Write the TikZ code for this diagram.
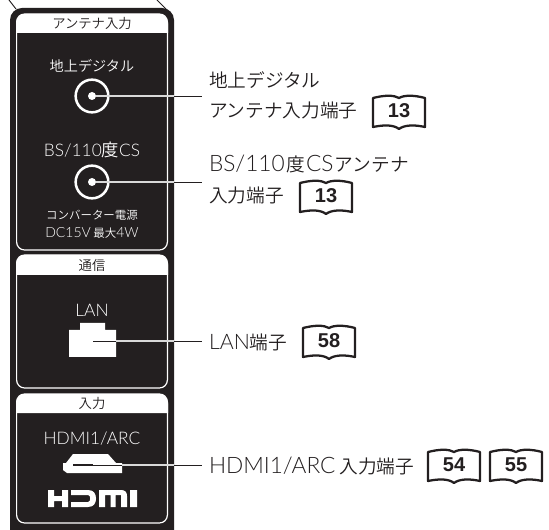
\documentclass[tikz,border=0pt]{standalone}
\usepackage{fontspec}
\setmainfont{Noto Sans CJK JP DemiLight}
\newfontfamily\latf{Lato Light}
\newfontfamily\latb{Liberation Sans Bold}
\newcommand{\lt}[1]{{\latf #1}}
\newcommand{\bookicon}[4]{% name, x, y(top), number
  \draw[bookline] (#2,#3+2) .. controls (#2+12,#3-1) and (#2+21,#3-1) .. (#2+26,#3+2)
     .. controls (#2+31,#3-1) and (#2+41,#3-1) .. (#2+52,#3+2) -- (#2+52,#3+31)
     .. controls (#2+41,#3+28.5) and (#2+31,#3+29) .. (#2+26,#3+33)
     .. controls (#2+21,#3+29) and (#2+12,#3+28.5) .. (#2,#3+31) -- cycle;
  \node[booknum] (#1) at (#2+26,#3+15) {\latb #4};
}
\definecolor{body}{HTML}{231F20}
\tikzset{
  x=0.75pt,y=-0.75pt,
  paneltext/.style={text=body,font=\fontsize{10}{12}\selectfont,inner sep=0pt},
  inner/.style={text=white,font=\fontsize{10.6}{12}\selectfont,inner sep=0pt},
  latinner/.style={text=white,font=\fontsize{13}{14}\selectfont,inner sep=0pt},
  small/.style={text=white,font=\fontsize{8.6}{10}\selectfont,inner sep=0pt},
  port/.style={circle,draw=white,line width=1.9pt,minimum size=24.5pt,inner sep=0pt},
  portdot/.style={circle,fill=white,minimum size=6pt,inner sep=0pt},
  wline/.style={draw=white!85!black,line width=0.9pt},
  bline/.style={draw=body,line width=0.7pt},
  lab/.style={anchor=west,align=left,inner sep=0pt,outer sep=0pt,text=body,font=\fontsize{14}{23}\selectfont},
  bookline/.style={draw=body,line width=1.7pt,line join=round,fill=white},
  booknum/.style={inner sep=0pt,text=body,font=\fontsize{15}{15}\selectfont},
}
\begin{document}
\begin{tikzpicture}
\useasboundingbox (0,0) rectangle (549,530);
\clip (0,0) rectangle (549,530);
% housing
\fill[body,rounded corners=9pt] (10,560) -- (10,8) -- (174,8) -- (174,560) -- cycle;
\coordinate (tl0) at (9,0); \coordinate (tl1) at (16,9);
\coordinate (tr0) at (157,0); \coordinate (tr1) at (166,9);
\draw[bline] (tl0) -- (tl1);
\draw[bline] (tr0) -- (tr1);
% panels
\foreach \t/\h/\b in {14/33/250, 255/275/388, 394/413/523}{
  \draw[white,line width=0.9pt,rounded corners=6pt] (16.6,\t) rectangle (167.4,\b);
  \fill[white] (16,\h) [rounded corners=7pt] -- (16,\t) -- (168,\t) [sharp corners] -- (168,\h) -- cycle;
}
\node[paneltext] (h1) at (92,23) {アンテナ入力};
\node[paneltext] (h2) at (92,265) {通信};
\node[paneltext] (h3) at (92,403) {入力};
% panel 1
\node[inner] (t1) at (92,66) {地上デジタル};
\node[port] (p1) at (92,96) {};
\node[portdot] (d1) at (92,96) {};
\node[latinner] (t2) at (92,150) {\latf BS/110{\rmfamily 度}CS};
\node[port] (p2) at (92,182) {};
\node[portdot] (d2) at (92,182) {};
\node[small] (t3) at (92,215) {コンバーター電源};
\node[small] (t4) at (92,233) {\lt{\fontsize{10.5}{10}\selectfont DC15V} 最大\lt{\fontsize{10.5}{10}\selectfont 4W}};
% panel 2
\node[latinner] (t5) at (92,310) {\latf LAN};
\fill[white] (69,357) -- (69,330) -- (80,330) -- (80,323) -- (105,323) -- (105,330) -- (116,330) -- (116,357) -- cycle;
\coordinate (d3) at (93,341);
% panel 3
\node[latinner] (t6) at (92,439) {\latf HDMI1/ARC};
\fill[white] (73,454) -- (108,454) -- (116,463) -- (122,463) -- (122,473) -- (67,473) -- (63,470) -- (63,463) -- (66,463) -- cycle;
\coordinate (d4) at (93,465);
\coordinate (s4) at (73,465);
\draw[bline,line width=0.9pt] (s4) -- (d4);
% HDMI logo
\fill[white,even odd rule]
  (48,490) -- (54,490) -- (54,496) -- (62,496) -- (62,490) -- (68,490) -- (68,507) -- (62,507) -- (62,501) -- (54,501) -- (54,507) -- (48,507) -- cycle
  (71,490) -- (88,490) .. controls (94,490) and (96,494) .. (96,498.5) .. controls (96,503) and (94,507) .. (88,507) -- (71,507) -- (71,502) -- (88,502) .. controls (91,502) and (91,495) .. (88,495) -- (71,495) -- cycle
  (99,490) -- (121,490) .. controls (125,490) and (127,492) .. (127,496) -- (127,507) -- (121,507) -- (121,495) -- (115.5,495) -- (115.5,507) -- (110.5,507) -- (110.5,495) -- (105,495) -- (105,507) -- (99,507) -- cycle
  (130,490) -- (137,490) -- (137,507) -- (130,507) -- cycle;
% labels
\node[lab] (l1) at (209,95.5) {地上デジタル\\アンテナ入力端子};
\node[lab] (l2) at (209,179.5) {\lt{\fontsize{17}{23}\selectfont BS/110}\hspace{1pt}度\hspace{1pt}\lt{\fontsize{17}{23}\selectfont CS}\hspace{1pt}アンテナ\\入力端子};
\node[lab] (l3) at (209,342) {\lt{\fontsize{16}{20}\selectfont LAN}端子};
\node[lab] (l4) at (209,466) {\lt{\fontsize{17}{20}\selectfont HDMI1/ARC} 入力端子};
% books
\bookicon{b1}{373}{96}{13}
\bookicon{b2}{300}{181}{13}
\bookicon{b3}{303}{326}{58}
\bookicon{b4}{428}{450}{54}
\bookicon{b5}{490}{450}{55}
% leaders
\coordinate (e1) at (174,96); \coordinate (f1) at (202,96);
\coordinate (e2) at (174,182); \coordinate (f2) at (202,182);
\coordinate (e3) at (174,341); \coordinate (f3) at (202,341);
\coordinate (e4) at (174,465); \coordinate (f4) at (202,465);
\coordinate (i3) at (116,341); \coordinate (i4) at (122,465);
\draw[wline] (d1) -- (e1); \draw[bline] (e1) -- (f1);
\draw[wline] (d2) -- (e2); \draw[bline] (e2) -- (f2);
\draw[bline] (d3) -- (i3); \draw[wline] (i3) -- (e3); \draw[bline] (e3) -- (f3);
\draw[bline] (d4) -- (i4); \draw[wline] (i4) -- (e4); \draw[bline] (e4) -- (f4);
\end{tikzpicture}
\end{document}
